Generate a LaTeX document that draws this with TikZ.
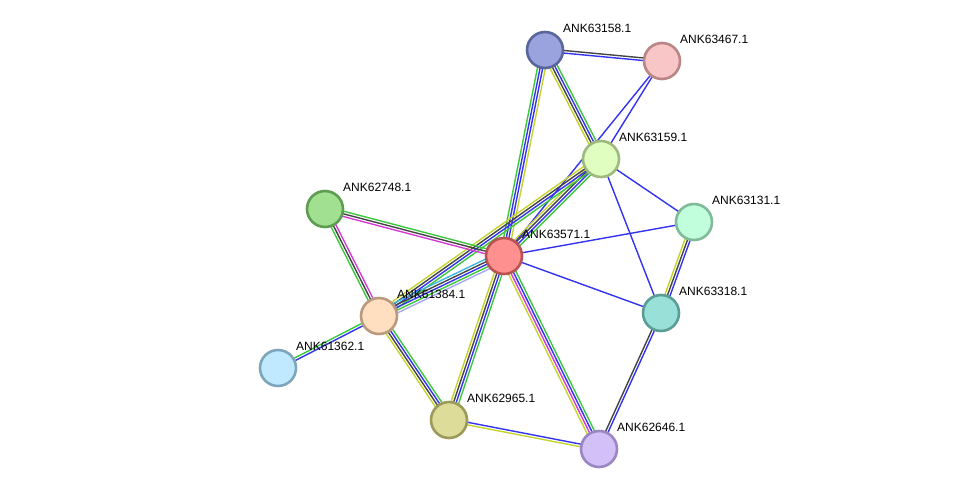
\documentclass[tikz,border=0pt]{standalone}
\usepackage{fontspec}
\setmainfont{Liberation Sans}
\usetikzlibrary{calc,backgrounds}
\definecolor{sgreen}{HTML}{3CC83C}
\definecolor{sblue}{HTML}{3333F0}
\definecolor{sblack}{HTML}{454545}
\definecolor{syellow}{HTML}{C4D42C}
\definecolor{smag}{HTML}{D63BD6}
\definecolor{scyan}{HTML}{3BB7E0}
\definecolor{slav}{HTML}{A8A8F0}
\definecolor{f158}{HTML}{9AA3DE}\definecolor{d158}{HTML}{5A6599}
\definecolor{f467}{HTML}{F8C6C6}\definecolor{d467}{HTML}{BA8585}
\definecolor{f159}{HTML}{E1FEC1}\definecolor{d159}{HTML}{9DB97E}
\definecolor{f131}{HTML}{C0FEDC}\definecolor{d131}{HTML}{7FBB99}
\definecolor{f748}{HTML}{A0E090}\definecolor{d748}{HTML}{5E9C52}
\definecolor{f571}{HTML}{FF9090}\definecolor{d571}{HTML}{B95252}
\definecolor{f384}{HTML}{FFDFC0}\definecolor{d384}{HTML}{B99A7E}
\definecolor{f318}{HTML}{98E0D8}\definecolor{d318}{HTML}{5A9D96}
\definecolor{f362}{HTML}{C0E8FE}\definecolor{d362}{HTML}{7FA5BB}
\definecolor{f965}{HTML}{DDDC98}\definecolor{d965}{HTML}{9C9A5A}
\definecolor{f646}{HTML}{D4C0F8}\definecolor{d646}{HTML}{9A86C0}
\tikzset{
  prot/.style={circle, minimum size=36pt, inner sep=0pt, line width=2.6pt, fill=f#1, draw=d#1},
  lab/.style={anchor=base west, font=\fontsize{12}{14}\selectfont, inner sep=1pt, text=black},
  ln/.style={line width=1.4pt}
}
\newcommand\multiedge[3]{%
  \gdef\nn{0}\foreach \c in {#3}{\xdef\nn{\the\numexpr\nn+1\relax}}%
  \foreach \c [count=\i] in {#3}{%
    \pgfmathsetmacro\off{(\i-(\nn+1)/2)*2.6}%
    \draw[ln,\c] ($(#1.center)!\off pt!90:(#2.center)$) -- ($(#2.center)!\off pt!-90:(#1.center)$);}}
\begin{document}
\begin{tikzpicture}[x=1pt,y=-1pt]
\useasboundingbox (0,0) rectangle (976,495);
\node[prot=158] (a158) at (545,50) {};
\node[prot=467] (a467) at (662,61) {};
\node[prot=159] (a159) at (601,159) {};
\node[prot=131] (a131) at (694,222) {};
\node[prot=748] (a748) at (325,209) {};
\node[prot=571] (a571) at (504,256) {};
\node[prot=384] (a384) at (379,316) {};
\node[prot=318] (a318) at (661,313) {};
\node[prot=362] (a362) at (278,368) {};
\node[prot=965] (a965) at (449,420) {};
\node[prot=646] (a646) at (599,449) {};
\foreach \n/\t in {a158/ANK63158.1,a467/ANK63467.1,a159/ANK63159.1,a131/ANK63131.1,a748/ANK62748.1,a571/ANK63571.1,a384/ANK61384.1,a318/ANK63318.1,a362/ANK61362.1,a965/ANK62965.1,a646/ANK62646.1}
  \node[lab] (l\n) at ($(\n.center)+(17,-17.5)$) {\t};
\begin{pgfonlayer}{background}
\multiedge{a158}{a467}{sblue,sblack}
\multiedge{a158}{a159}{syellow,sblack,sblue,sgreen}
\multiedge{a158}{a571}{sgreen,sblue,sblue,syellow}
\multiedge{a467}{a159}{sblue}
\multiedge{a467}{a571}{sblue}
\multiedge{a159}{a571}{syellow,sblack,sblue,sgreen}
\multiedge{a159}{a384}{syellow,sblack,sblue,sgreen}
\multiedge{a159}{a131}{sblue}
\multiedge{a159}{a318}{sblue}
\multiedge{a571}{a131}{sblue}
\multiedge{a571}{a318}{sblue}
\multiedge{a748}{a571}{smag,sblack,sgreen}
\multiedge{a571}{a384}{scyan,sblack,sblue,sgreen,slav}
\multiedge{a571}{a965}{syellow,sblack,sblue,sgreen}
\multiedge{a571}{a646}{syellow,smag,sblue,sgreen}
\multiedge{a748}{a384}{sgreen,sblack,smag}
\multiedge{a384}{a362}{sgreen,sblue}
\multiedge{a384}{a965}{syellow,sblack,sblue,sgreen}
\multiedge{a965}{a646}{syellow,sblue}
\multiedge{a131}{a318}{syellow,sblack,sblue}
\multiedge{a318}{a646}{sblack,sblue}
\end{pgfonlayer}
\end{tikzpicture}
\end{document}
